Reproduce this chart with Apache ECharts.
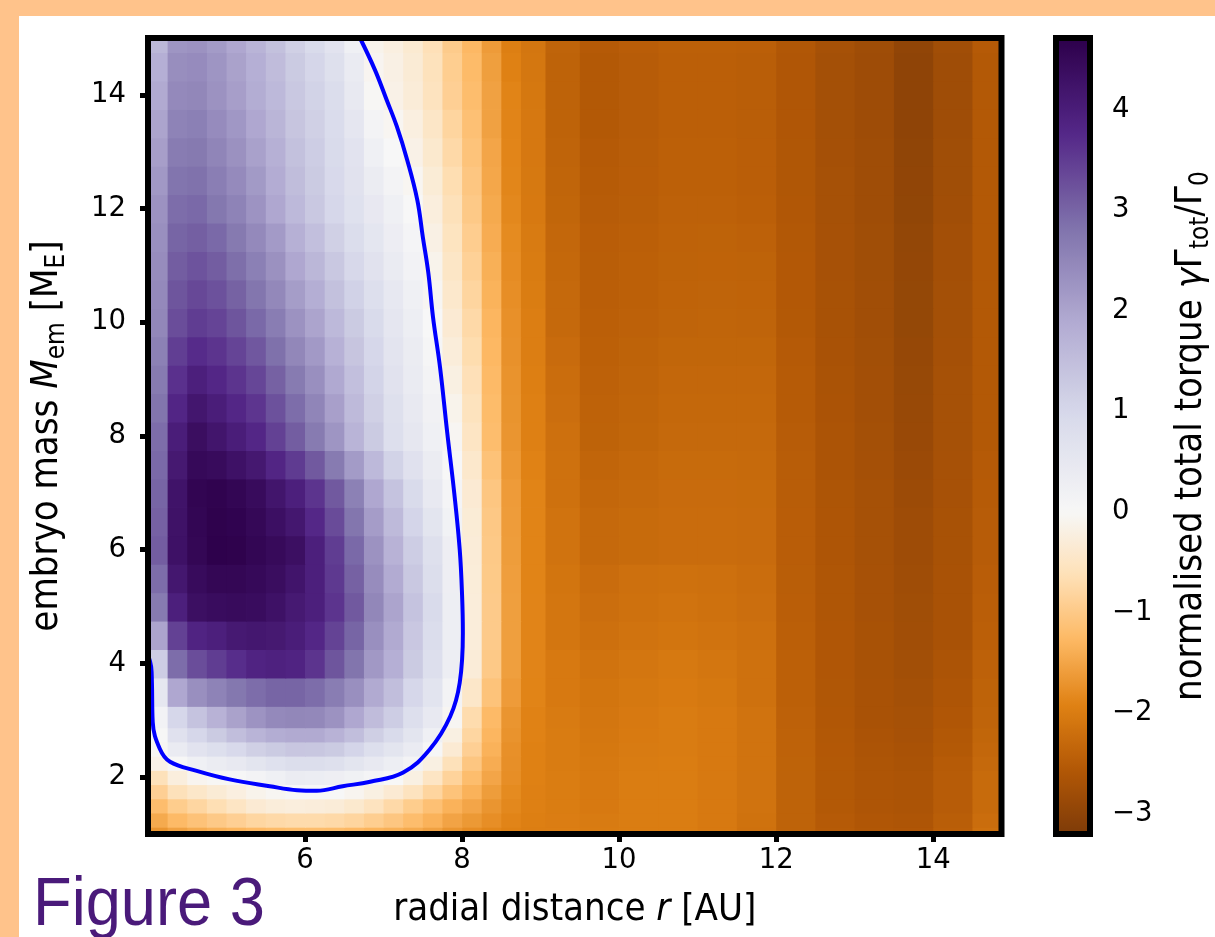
<!DOCTYPE html>
<html><head><meta charset="utf-8">
<script src="https://cdn.jsdelivr.net/npm/echarts@6.0.0/dist/echarts.min.js"></script>
<style>
html,body{margin:0;padding:0;width:1215px;height:937px;background:#ffc38b;overflow:hidden;}
#chart{position:absolute;left:19px;top:16px;width:1196px;height:921px;background:#ffffff;}
</style></head><body><div id="chart"></div>
<script>
// radial distance r [AU] (cell centres)
const rCenters = [4.125,4.375,4.625,4.875,5.125,5.375,5.625,5.875,6.125,6.375,6.625,6.875,7.125,7.375,7.625,7.875,8.125,8.375,8.625,8.875,9.25,9.75,10.25,10.75,11.25,11.75,12.25,12.75,13.25,13.75,14.25,14.75];
// embryo mass M_em [M_E] (cell centres)
const mCenters = [1,1.25,1.5,1.75,2,2.25,2.5,2.75,3,3.5,4,4.5,5,5.5,6,6.5,7,7.5,8,8.5,9,9.5,10,10.5,11,11.5,12,12.5,13,13.5,14,14.5,15];
// normalised total torque, one row per mass (bottom to top), one value per radius
const torque = [
[-1.70,-1.55,-1.45,-1.38,-1.33,-1.28,-1.24,-1.21,-1.20,-1.22,-1.27,-1.33,-1.38,-1.45,-1.55,-1.70,-1.80,-1.87,-1.93,-1.97,-1.98,-2.02,-2.00,-2.00,-2.05,-2.18,-2.40,-2.52,-2.58,-2.60,-2.45,-2.20],
[-1.45,-1.25,-1.12,-1.00,-0.90,-0.80,-0.75,-0.72,-0.72,-0.75,-0.82,-0.93,-1.05,-1.20,-1.35,-1.52,-1.65,-1.78,-1.89,-1.96,-1.99,-2.03,-2.00,-2.00,-2.05,-2.16,-2.40,-2.53,-2.60,-2.62,-2.47,-2.24],
[-1.20,-0.95,-0.80,-0.65,-0.50,-0.35,-0.28,-0.25,-0.27,-0.30,-0.40,-0.55,-0.75,-0.95,-1.15,-1.35,-1.50,-1.70,-1.85,-1.95,-2.00,-2.05,-2.00,-2.00,-2.05,-2.15,-2.40,-2.55,-2.62,-2.65,-2.50,-2.28],
[-0.90,-0.60,-0.45,-0.33,-0.22,-0.12,-0.05,0.00,0.02,0.00,-0.08,-0.20,-0.35,-0.55,-0.82,-1.10,-1.35,-1.60,-1.82,-1.95,-2.00,-2.05,-2.00,-2.00,-2.05,-2.15,-2.40,-2.55,-2.62,-2.65,-2.50,-2.28],
[-0.60,-0.25,-0.08,-0.03,0.05,0.12,0.25,0.35,0.33,0.28,0.20,0.10,0.00,-0.20,-0.50,-0.85,-1.20,-1.50,-1.78,-1.94,-2.00,-2.05,-2.00,-2.00,-2.05,-2.15,-2.40,-2.55,-2.62,-2.65,-2.50,-2.28],
[-0.15,0.05,0.25,0.35,0.45,0.60,0.72,0.82,0.82,0.75,0.60,0.45,0.30,0.12,-0.20,-0.60,-1.05,-1.42,-1.76,-1.94,-2.01,-2.06,-2.01,-2.00,-2.05,-2.15,-2.40,-2.55,-2.63,-2.67,-2.52,-2.30],
[-0.05,0.40,0.65,0.80,0.95,1.15,1.25,1.35,1.33,1.25,1.05,0.80,0.60,0.40,0.05,-0.35,-0.90,-1.35,-1.75,-1.93,-2.02,-2.08,-2.03,-2.01,-2.05,-2.15,-2.41,-2.56,-2.65,-2.69,-2.55,-2.33],
[0.05,0.70,1.00,1.25,1.50,1.70,1.85,1.90,1.90,1.75,1.50,1.18,0.90,0.60,0.25,-0.20,-0.80,-1.30,-1.72,-1.92,-2.02,-2.09,-2.04,-2.01,-2.05,-2.15,-2.41,-2.57,-2.66,-2.71,-2.57,-2.35],
[0.15,1.00,1.40,1.75,2.05,2.28,2.45,2.50,2.48,2.30,1.95,1.55,1.20,0.80,0.45,-0.05,-0.70,-1.25,-1.70,-1.92,-2.03,-2.10,-2.05,-2.02,-2.05,-2.15,-2.42,-2.58,-2.68,-2.73,-2.60,-2.38],
[0.50,1.95,2.35,2.55,2.75,2.90,3.00,3.00,2.90,2.65,2.35,1.90,1.50,1.00,0.62,0.12,-0.45,-1.10,-1.62,-1.90,-2.05,-2.12,-2.08,-2.04,-2.08,-2.17,-2.43,-2.59,-2.69,-2.75,-2.62,-2.40],
[1.20,2.90,3.30,3.50,3.70,3.85,3.90,3.85,3.60,3.20,2.80,2.20,1.80,1.25,0.80,0.30,-0.30,-1.00,-1.58,-1.89,-2.05,-2.15,-2.10,-2.06,-2.10,-2.18,-2.44,-2.60,-2.70,-2.77,-2.65,-2.42],
[2.00,3.45,3.85,3.95,4.10,4.15,4.12,4.00,3.80,3.42,3.00,2.35,1.90,1.32,0.85,0.30,-0.28,-0.98,-1.58,-1.89,-2.10,-2.20,-2.15,-2.12,-2.15,-2.20,-2.45,-2.60,-2.70,-2.78,-2.68,-2.45],
[2.70,3.95,4.35,4.42,4.45,4.42,4.30,4.10,3.95,3.60,3.15,2.50,2.00,1.40,0.90,0.30,-0.28,-0.98,-1.58,-1.89,-2.10,-2.22,-2.17,-2.14,-2.17,-2.22,-2.46,-2.61,-2.71,-2.79,-2.68,-2.46],
[2.90,4.15,4.45,4.56,4.56,4.50,4.40,4.22,3.95,3.55,3.05,2.40,1.88,1.30,0.82,0.29,-0.29,-0.99,-1.59,-1.90,-2.12,-2.25,-2.20,-2.18,-2.20,-2.24,-2.47,-2.61,-2.71,-2.80,-2.69,-2.48],
[3.10,4.30,4.55,4.70,4.68,4.58,4.48,4.35,3.95,3.50,2.95,2.30,1.75,1.20,0.75,0.28,-0.30,-1.00,-1.60,-1.90,-2.15,-2.30,-2.28,-2.25,-2.25,-2.27,-2.48,-2.62,-2.72,-2.82,-2.70,-2.50],
[3.05,4.28,4.58,4.68,4.63,4.52,4.34,4.15,3.78,3.33,2.78,2.13,1.58,1.05,0.60,0.18,-0.32,-1.02,-1.61,-1.90,-2.15,-2.30,-2.28,-2.25,-2.25,-2.27,-2.48,-2.62,-2.72,-2.82,-2.70,-2.50],
[3.00,4.25,4.60,4.65,4.58,4.45,4.20,3.95,3.60,3.15,2.60,1.95,1.40,0.90,0.45,0.08,-0.35,-1.05,-1.62,-1.90,-2.17,-2.33,-2.30,-2.27,-2.27,-2.28,-2.49,-2.63,-2.73,-2.84,-2.71,-2.52],
[2.95,4.12,4.50,4.45,4.30,4.13,3.83,3.53,3.15,2.70,2.15,1.60,1.10,0.70,0.35,0.02,-0.42,-1.12,-1.66,-1.92,-2.18,-2.36,-2.32,-2.28,-2.28,-2.29,-2.49,-2.64,-2.74,-2.86,-2.71,-2.53],
[2.90,4.00,4.38,4.20,4.00,3.80,3.45,3.10,2.70,2.25,1.70,1.25,0.80,0.50,0.25,-0.05,-0.50,-1.20,-1.70,-1.95,-2.20,-2.40,-2.35,-2.30,-2.30,-2.30,-2.50,-2.65,-2.75,-2.88,-2.72,-2.55],
[2.80,3.82,4.17,4.00,3.80,3.59,3.25,2.90,2.52,2.08,1.59,1.16,0.74,0.45,0.19,-0.12,-0.56,-1.22,-1.71,-1.95,-2.22,-2.41,-2.37,-2.32,-2.32,-2.32,-2.51,-2.66,-2.76,-2.89,-2.73,-2.55],
[2.70,3.65,3.95,3.80,3.60,3.38,3.05,2.70,2.35,1.92,1.48,1.08,0.68,0.40,0.13,-0.20,-0.62,-1.25,-1.72,-1.96,-2.24,-2.42,-2.38,-2.33,-2.33,-2.33,-2.52,-2.67,-2.76,-2.90,-2.73,-2.55],
[2.60,3.48,3.72,3.60,3.40,3.17,2.85,2.50,2.18,1.76,1.37,0.99,0.61,0.35,0.07,-0.28,-0.69,-1.28,-1.74,-1.97,-2.27,-2.44,-2.40,-2.35,-2.35,-2.35,-2.53,-2.68,-2.77,-2.91,-2.74,-2.55],
[2.50,3.30,3.50,3.40,3.20,2.95,2.65,2.30,2.00,1.60,1.25,0.90,0.55,0.30,0.02,-0.35,-0.75,-1.30,-1.75,-1.98,-2.30,-2.45,-2.42,-2.38,-2.37,-2.38,-2.55,-2.70,-2.78,-2.93,-2.75,-2.55],
[2.45,3.20,3.36,3.25,3.04,2.78,2.48,2.12,1.82,1.45,1.11,0.79,0.47,0.23,-0.05,-0.42,-0.82,-1.34,-1.78,-2.00,-2.31,-2.46,-2.43,-2.39,-2.38,-2.39,-2.56,-2.70,-2.78,-2.93,-2.75,-2.55],
[2.40,3.10,3.22,3.10,2.88,2.62,2.32,1.95,1.65,1.30,0.98,0.68,0.39,0.16,-0.12,-0.48,-0.88,-1.38,-1.80,-2.02,-2.32,-2.47,-2.44,-2.40,-2.39,-2.40,-2.56,-2.71,-2.79,-2.94,-2.76,-2.55],
[2.35,3.00,3.08,2.95,2.72,2.46,2.16,1.78,1.48,1.15,0.85,0.57,0.31,0.09,-0.18,-0.54,-0.94,-1.42,-1.82,-2.03,-2.33,-2.48,-2.45,-2.41,-2.40,-2.42,-2.57,-2.71,-2.79,-2.95,-2.76,-2.55],
[2.30,2.90,2.95,2.75,2.55,2.28,1.95,1.60,1.30,1.00,0.72,0.46,0.23,0.02,-0.25,-0.60,-1.00,-1.45,-1.85,-2.05,-2.35,-2.50,-2.47,-2.42,-2.42,-2.45,-2.58,-2.72,-2.80,-2.97,-2.78,-2.55],
[2.20,2.79,2.84,2.64,2.44,2.17,1.87,1.53,1.25,0.96,0.68,0.36,0.13,-0.06,-0.32,-0.67,-1.05,-1.48,-1.87,-2.06,-2.37,-2.52,-2.48,-2.43,-2.43,-2.46,-2.59,-2.73,-2.81,-2.98,-2.79,-2.55],
[2.10,2.68,2.72,2.52,2.32,2.06,1.78,1.45,1.20,0.92,0.63,0.25,0.02,-0.15,-0.40,-0.75,-1.10,-1.50,-1.88,-2.07,-2.38,-2.53,-2.49,-2.44,-2.44,-2.46,-2.59,-2.74,-2.81,-2.99,-2.79,-2.55],
[2.00,2.56,2.61,2.41,2.21,1.95,1.69,1.37,1.15,0.88,0.54,0.11,-0.06,-0.22,-0.47,-0.82,-1.15,-1.55,-1.89,-2.07,-2.40,-2.55,-2.50,-2.45,-2.45,-2.47,-2.60,-2.75,-2.82,-3.00,-2.80,-2.55],
[1.90,2.45,2.50,2.30,2.10,1.85,1.60,1.30,1.10,0.85,0.45,-0.03,-0.15,-0.30,-0.55,-0.90,-1.20,-1.55,-1.90,-2.08,-2.40,-2.55,-2.50,-2.45,-2.45,-2.47,-2.60,-2.75,-2.82,-3.00,-2.80,-2.55],
[1.80,2.38,2.42,2.25,2.05,1.80,1.55,1.25,1.02,0.77,0.38,-0.07,-0.18,-0.33,-0.58,-0.93,-1.23,-1.58,-1.93,-2.09,-2.40,-2.55,-2.50,-2.45,-2.45,-2.47,-2.60,-2.75,-2.82,-3.00,-2.80,-2.55],
[1.65,2.25,2.30,2.15,1.95,1.70,1.45,1.15,0.90,0.65,0.25,-0.12,-0.22,-0.37,-0.62,-0.97,-1.27,-1.62,-1.96,-2.11,-2.38,-2.53,-2.48,-2.43,-2.43,-2.45,-2.58,-2.73,-2.80,-2.98,-2.78,-2.53]
];
// zero-torque contour
const contourR = [6.70,6.89,7.04,7.17,7.30,7.43,7.50,7.57,7.63,7.72,7.81,7.90,7.97,8.00,8.01,7.97,7.85,7.59,7.25,6.83,6.48,6.15,5.90,5.55,5.04,4.62,4.28,4.15,4.06,4.05,4.04,4.00];
const contourM = [15.0,14.44,13.91,13.44,12.86,12.15,11.5,10.87,10.09,9.2,8.07,7.0,6.0,5.2,4.54,3.66,3.07,2.49,2.08,1.92,1.84,1.76,1.77,1.84,1.96,2.11,2.27,2.5,2.97,3.66,3.94,4.15];
const xTicks = [6,8,10,12,14];
const yTicks = [2,4,6,8,10,12,14];
const cbTicks = [-3,-2,-1,0,1,2,3,4];
const xRange = [4, 14.87];
const yRange = [1, 15];
const cbRange = [-3.2, 4.71];

// PuOr colormap with a two-slope norm centred on zero
const PUOR = ['#7f3b08','#b35806','#e08214','#fdb863','#fee0b6','#f7f7f7','#d8daeb','#b2abd2','#8073ac','#542788','#2d004b'];
function hex(h){return [parseInt(h.substr(1,2),16),parseInt(h.substr(3,2),16),parseInt(h.substr(5,2),16)];}
function cmap(t){
  t=Math.max(0,Math.min(1,t)); const x=t*10; const i=Math.min(9,Math.floor(x)); const f=x-i;
  const a=hex(PUOR[i]), b=hex(PUOR[i+1]);
  const c=a.map((v,k)=>Math.round(v+(b[k]-v)*f));
  return 'rgb('+c.join(',')+')';
}
function norm(v){return v<0 ? 0.5*(v-cbRange[0])/(0-cbRange[0]) : 0.5+0.5*v/cbRange[1];}
const cmColors=[];
for(let k=0;k<=200;k++){const v=cbRange[0]+(cbRange[1]-cbRange[0])*k/200; cmColors.push(cmap(norm(v)));}

function edges(c){const e=[];for(let i=0;i<=c.length;i++){if(i===0)e.push(c[0]-(c[1]-c[0])/2);else if(i===c.length)e.push(c[i-1]+(c[i-1]-c[i-2])/2);else e.push((c[i-1]+c[i])/2);}return e;}
const rEdges=edges(rCenters), mEdges=edges(mCenters);

const cells=[];
for(let j=0;j<mCenters.length;j++)for(let i=0;i<rCenters.length;i++)cells.push([rCenters[i],mCenters[j],torque[j][i],i,j]);
const contour=contourR.map((r,k)=>[r,contourM[k]]);

const FONT='DejaVu Sans';
const NFONT='"DejaVu Sans Condensed", "DejaVu Sans"';
const chart=echarts.init(document.getElementById('chart'),null,{renderer:'canvas'});
const nameRich={
  n:{fontSize:38,fontFamily:NFONT,color:'#000',lineHeight:46},
  i:{fontSize:38,fontFamily:NFONT,fontStyle:'italic',color:'#000',lineHeight:46},
  s:{fontSize:26,fontFamily:NFONT,color:'#000',lineHeight:22,verticalAlign:'bottom'}
};
chart.setOption({
  animation:false,
  backgroundColor:'#ffffff',
  grid:[
    {left:129,top:22,width:853.5,height:796,show:true,z:10,backgroundColor:'transparent',borderColor:'#000',borderWidth:6},
    {left:1037,top:22,width:39.5,height:796,show:true,z:10,backgroundColor:'transparent',borderColor:'#000',borderWidth:6}
  ],
  xAxis:[
    {type:'value',gridIndex:0,min:xRange[0],max:xRange[1],splitLine:{show:false},axisLine:{show:false},
     axisTick:{show:true,customValues:xTicks,length:8,lineStyle:{width:5,color:'#000'}},
     axisLabel:{customValues:xTicks,fontSize:27.5,fontFamily:FONT,color:'#000',margin:13},
     name:'{n|radial distance }{i|r}{n| [AU]}',nameLocation:'middle',nameGap:53,nameMoveOverlap:false,nameTextStyle:{rich:nameRich}},
    {type:'value',gridIndex:1,min:0,max:1,show:false}
  ],
  yAxis:[
    {type:'value',gridIndex:0,min:yRange[0],max:yRange[1],splitLine:{show:false},axisLine:{show:false},
     axisTick:{show:true,customValues:yTicks,length:8,lineStyle:{width:5,color:'#000'}},
     axisLabel:{customValues:yTicks,fontSize:27.5,fontFamily:FONT,color:'#000',margin:22},
     name:'{n|embryo mass }{i|M}{s|em}{n| [M}{s|E}{n|]}',nameLocation:'middle',nameGap:78,nameRotate:90,nameMoveOverlap:false,nameTextStyle:{rich:nameRich}},
    {type:'value',gridIndex:1,position:'right',min:cbRange[0],max:cbRange[1],splitLine:{show:false},axisLine:{show:false},
     axisTick:{show:true,customValues:cbTicks,length:8,lineStyle:{width:1.5,color:'#000'}},
     axisLabel:{customValues:cbTicks,fontSize:27.5,fontFamily:FONT,color:'#000',margin:22,formatter:v=>v<0?'\u2212'+Math.abs(v):String(v)},
     name:'{n|normalised total torque }{i|γ}{n|Γ}{s|tot}{n|/Γ}{s|0}',nameLocation:'middle',nameGap:78,nameRotate:90,nameMoveOverlap:false,nameTextStyle:{rich:nameRich}}
  ],
  visualMap:{type:'continuous',min:cbRange[0],max:cbRange[1],dimension:2,seriesIndex:0,show:true,calculable:false,
    left:1039,top:23,itemWidth:35,itemHeight:794,padding:0,inRange:{color:cmColors},text:null,hoverLink:false},
  series:[
    {type:'custom',xAxisIndex:0,yAxisIndex:0,clip:true,data:cells,encode:{x:0,y:1},silent:true,
     renderItem:function(params,api){
       const i=api.value(3), j=api.value(4);
       const p0=api.coord([rEdges[i],mEdges[j+1]]);
       const p1=api.coord([rEdges[i+1],mEdges[j]]);
       return {type:'rect',shape:{x:p0[0],y:p0[1],width:p1[0]-p0[0]+0.8,height:p1[1]-p0[1]+0.8},style:{fill:api.visual('color')}};
     }},
    {type:'line',xAxisIndex:0,yAxisIndex:0,data:contour,smooth:0.4,symbol:'none',clip:true,silent:true,
     lineStyle:{color:'#0000ff',width:4},z:5}
  ],
  graphic:[
    {type:'text',left:14,top:856,scaleX:0.93,originX:0,style:{text:'Figure 3',font:'68px "Liberation Sans", sans-serif',fill:'#4a1a7a'}}
  ]
});
</script></body></html>
